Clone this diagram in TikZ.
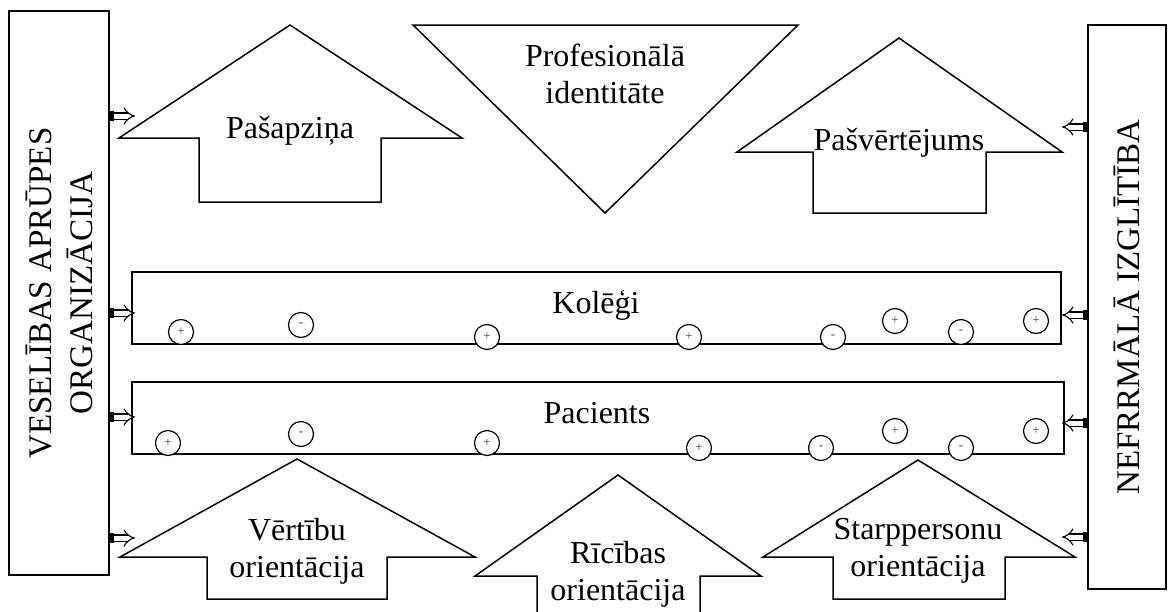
\documentclass[tikz,border=0pt]{standalone}
\usepackage{fontspec}
\setmainfont{Liberation Serif}
\usepackage{tikz}
\usetikzlibrary{arrows.meta, positioning}
\tikzstyle{sidebox} = [draw, line width=1.4pt, rotate=90, align=center, inner sep=0pt, font=\fontsize{33}{41}\selectfont]
\tikzstyle{rowbox} = [draw, line width=1.5pt, inner sep=0pt]
\tikzstyle{figline} = [line width=1.5pt, line join=miter]
\tikzstyle{lbl} = [align=center, inner sep=0pt, font=\fontsize{32}{37}\selectfont]
\tikzstyle{sign} = [circle, draw, fill=white, line width=1.2pt, minimum size=25pt, inner sep=0pt, font=\fontsize{13}{13}\selectfont, text=black!75]
\tikzstyle{feed} = [double, double distance=5pt, line width=1.1pt, -{Implies}]

\begin{document}
\begin{tikzpicture}[x=1pt, y=-1pt]
    \useasboundingbox (0,0) rectangle (1171,611);

    % Side boxes
    \node [sidebox, minimum width=564pt, minimum height=100pt] (org) at (59,293) {VESELĪBAS APRŪPES\\ORGANIZĀCIJA};
    \node [sidebox, minimum width=564pt, minimum height=78pt] (edu) at (1127,307) {NEFRRMĀLĀ IZGLĪTĪBA};

    % Top figures
    \draw [figline] (290,25) -- (462,138) -- (381,138) -- (381,202) -- (199,202) -- (199,138) -- (119,138) -- cycle;
    \draw [figline] (413,25) -- (798,25) -- (605,213) -- cycle;
    \draw [figline] (899,38) -- (1062,152) -- (986,152) -- (986,213) -- (813,213) -- (813,152) -- (737,152) -- cycle;
    \node [lbl, anchor=base] (selfaware) at (290,138) {Pašapziņa};
    \node [lbl] (identity) at (605,74) {Profesionālā\\identitāte};
    \node [lbl, anchor=base] (selfeval) at (899,150) {Pašvērtējums};

    % Rows
    \node [rowbox, minimum width=929pt, minimum height=72pt] (colleagues) at (596.5,308) {};
    \node [rowbox, minimum width=932pt, minimum height=72pt] (patients) at (598,418) {};
    \node [lbl, anchor=base] (coltext) at (596,313) {Kolēģi};
    \node [lbl, anchor=base] (pattext) at (597,423) {Pacients};
    \foreach \x/\y/\s [count=\i] in {181/332/+, 301/325/-, 487/337/+, 689/337/+, 833/337/-, 895/321/+, 961/332/-, 1036/321/+}
        \node [sign] (c\i) at (\x,\y) {\s};
    \foreach \x/\y/\s [count=\i] in {168/443/+, 301/434/-, 487/443/+, 699/448/+, 821/448/-, 895/431/+, 961/448/-, 1036/431/+}
        \node [sign] (p\i) at (\x,\y) {\s};

    % Bottom figures
    \draw [figline] (297,459) -- (475,557) -- (387,557) -- (387,599) -- (207,599) -- (207,557) -- (120,557) -- cycle;
    \draw [figline] (537,612) -- (537,576) -- (475,576) -- (618,475) -- (761,576) -- (700,576) -- (700,612);
    \draw [figline] (918,460) -- (1075,557) -- (1005,557) -- (1005,599) -- (833,599) -- (833,557) -- (763,557) -- cycle;
    \node [lbl] (values) at (297,551) {Vērtību\\orientācija};
    \node [lbl] (action) at (618,574) {Rīcības\\orientācija};
    \node [lbl] (social) at (918,551) {Starppersonu\\orientācija};

    % Arrows
    \foreach \y [count=\i] in {116,313,417,538} {
        \coordinate (ls\i) at (113,\y);
        \coordinate (le\i) at (135,\y);
        \draw [feed] (ls\i) -- (le\i);
        \fill (ls\i) ++(-4,-5) rectangle ++(5,10);
    }
    \foreach \y [count=\i] in {127,315,423,537} {
        \coordinate (rs\i) at (1084,\y);
        \coordinate (re\i) at (1062,\y);
        \draw [feed] (rs\i) -- (re\i);
        \fill (rs\i) ++(4,-5) rectangle ++(-5,10);
    }
\end{tikzpicture}
\end{document}
